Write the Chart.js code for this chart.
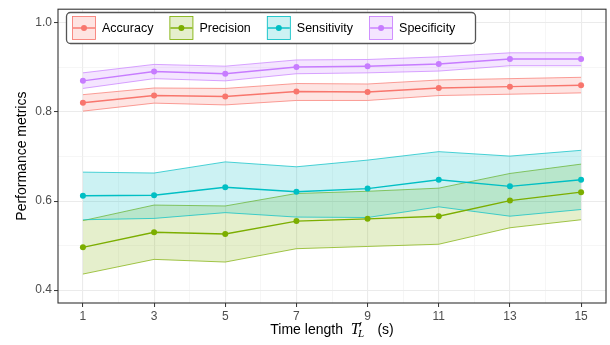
<!DOCTYPE html>
<html>
<head>
<meta charset="utf-8">
<script src="https://cdn.jsdelivr.net/npm/chart.js@4"></script>
<style>
  html, body { margin: 0; padding: 0; background: #fff; }
  canvas { display: block; }
</style>
</head>
<body>
<canvas id="myChart" width="610" height="345"></canvas>
<script>
// values
const times = [1, 3, 5, 7, 9, 11, 13, 15];

const accuracy   = [0.821, 0.837, 0.835, 0.846, 0.845, 0.854, 0.857, 0.860];
const accuracyLo = [0.802, 0.820, 0.816, 0.826, 0.826, 0.837, 0.840, 0.843];
const accuracyHi = [0.839, 0.854, 0.853, 0.864, 0.863, 0.872, 0.875, 0.878];

const precision   = [0.496, 0.530, 0.526, 0.555, 0.560, 0.566, 0.601, 0.620];
const precisionLo = [0.436, 0.469, 0.463, 0.493, 0.498, 0.503, 0.540, 0.558];
const precisionHi = [0.556, 0.591, 0.589, 0.617, 0.622, 0.629, 0.662, 0.683];

const sensitivity   = [0.612, 0.613, 0.631, 0.621, 0.628, 0.648, 0.633, 0.648];
const sensitivityLo = [0.558, 0.561, 0.574, 0.564, 0.563, 0.587, 0.566, 0.581];
const sensitivityHi = [0.665, 0.663, 0.688, 0.677, 0.692, 0.711, 0.701, 0.714];

const specificity   = [0.870, 0.891, 0.886, 0.901, 0.903, 0.908, 0.919, 0.919];
const specificityLo = [0.853, 0.875, 0.870, 0.886, 0.888, 0.892, 0.904, 0.904];
const specificityHi = [0.888, 0.907, 0.903, 0.917, 0.918, 0.924, 0.933, 0.933];

const xTicks = [1, 2, 3, 4, 5, 6, 7, 8, 9, 10, 11, 12, 13, 14, 15];
const yTicks = [0.4, 0.5, 0.6, 0.7, 0.8, 0.9, 1.0];

const series = [
    { label: 'Accuracy',    color: '#F8766D', fill: 'rgba(248,118,109,0.2)', mid: accuracy,    lo: accuracyLo,    hi: accuracyHi },
    { label: 'Precision',   color: '#7CAE00', fill: 'rgba(124,174,0,0.2)',   mid: precision,   lo: precisionLo,   hi: precisionHi },
    { label: 'Sensitivity', color: '#00BFC4', fill: 'rgba(0,191,196,0.2)',   mid: sensitivity, lo: sensitivityLo, hi: sensitivityHi },
    { label: 'Specificity', color: '#C77CFF', fill: 'rgba(199,124,255,0.2)', mid: specificity, lo: specificityLo, hi: specificityHi }
];

const FONT = '"Liberation Sans", Arial, Helvetica, sans-serif';
const SERIF = '"Liberation Serif", "DejaVu Serif", serif';

function pts(ys) {
    return times.map((t, i) => ({ x: t, y: ys[i] }));
}

const datasets = [];
series.forEach((s, i) => {
    // ribbon: upper edge filled down to lower edge
    datasets.push({
        label: s.label + ' hi',
        data: pts(s.hi),
        borderColor: s.color,
        borderWidth: 0.7,
        backgroundColor: s.fill,
        fill: '+1',
        pointRadius: 0,
        order: 100 - i * 2
    });
    datasets.push({
        label: s.label + ' lo',
        data: pts(s.lo),
        borderColor: s.color,
        borderWidth: 0.7,
        fill: false,
        pointRadius: 0,
        order: 99 - i * 2
    });
    datasets.push({
        label: s.label,
        data: pts(s.mid),
        borderColor: s.color,
        borderWidth: 1.4,
        fill: false,
        pointRadius: 3,
        pointBorderWidth: 0,
        pointBackgroundColor: s.color,
        order: 10 - i
    });
});

const isMajorX = v => Math.round(v) % 2 === 1;
const isMajorY = v => Math.round(v * 10) % 2 === 0;

// panel border, axis titles and the boxed legend
const decorations = {
    id: 'decorations',
    afterDraw(chart) {
        const ctx = chart.ctx;
        const a = chart.chartArea;
        ctx.save();

        // panel border
        ctx.strokeStyle = '#333333';
        ctx.lineWidth = 1.1;
        ctx.strokeRect(a.left, a.top, a.right - a.left, a.bottom - a.top);

        // y title
        ctx.fillStyle = '#000';
        ctx.font = '14px ' + FONT;
        ctx.textAlign = 'center';
        ctx.textBaseline = 'middle';
        ctx.save();
        ctx.translate(22, (a.top + a.bottom) / 2);
        ctx.rotate(-Math.PI / 2);
        ctx.fillText('Performance metrics', 0, 0);
        ctx.restore();

        // x title: Time length T'_L (s)
        const base = 334;
        const part1 = 'Time length  ';
        const part3 = '   (s)';
        ctx.textBaseline = 'alphabetic';
        ctx.textAlign = 'left';
        ctx.font = '14px ' + FONT;
        const w1 = ctx.measureText(part1).width;
        const w3 = ctx.measureText(part3).width;
        ctx.font = 'italic 16px ' + SERIF;
        const wT = ctx.measureText('T').width;
        ctx.font = 'italic 11px ' + SERIF;
        const wL = ctx.measureText('L').width;
        const total = w1 + wT + wL + w3;
        let x = (a.left + a.right) / 2 - total / 2;
        ctx.font = '14px ' + FONT;
        ctx.fillText(part1, x, base);
        x += w1;
        ctx.font = 'italic 16px ' + SERIF;
        ctx.fillText('T', x, base);
        x += wT;
        // prime
        ctx.strokeStyle = '#000';
        ctx.lineWidth = 1;
        ctx.beginPath();
        ctx.moveTo(x + 1.5, base - 12);
        ctx.lineTo(x, base - 7.5);
        ctx.stroke();
        ctx.font = 'italic 11px ' + SERIF;
        ctx.fillText('L', x - 1.5, base + 3);
        x += wL;
        ctx.font = '14px ' + FONT;
        ctx.fillText(part3, x, base);

        // legend
        const lx = 66.5, ly = 12.5, lw = 409, lh = 31;
        ctx.beginPath();
        ctx.roundRect(lx, ly, lw, lh, 4);
        ctx.fillStyle = '#fff';
        ctx.fill();
        ctx.strokeStyle = '#555';
        ctx.lineWidth = 1.3;
        ctx.stroke();

        ctx.font = '12.5px ' + FONT;
        ctx.textBaseline = 'middle';
        let kx = 72;
        const ky = 16, ks = 24;
        series.forEach(s => {
            ctx.fillStyle = s.fill;
            ctx.fillRect(kx, ky, ks, ks);
            ctx.strokeStyle = s.color;
            ctx.lineWidth = 0.8;
            ctx.strokeRect(kx + 0.5, ky + 0.5, ks - 1, ks - 1);
            ctx.beginPath();
            ctx.moveTo(kx + 1, ky + ks / 2);
            ctx.lineTo(kx + ks - 1, ky + ks / 2);
            ctx.lineWidth = 1.4;
            ctx.stroke();
            ctx.beginPath();
            ctx.arc(kx + ks / 2, ky + ks / 2, 3, 0, Math.PI * 2);
            ctx.fillStyle = s.color;
            ctx.fill();
            ctx.fillStyle = '#000';
            ctx.fillText(s.label, kx + ks + 6, ky + ks / 2 + 0.5);
            kx += ks + 6 + ctx.measureText(s.label).width + 16;
        });

        ctx.restore();
    }
};

const ctx = document.getElementById('myChart').getContext('2d');
const chart = new Chart(ctx, {
    type: 'line',
    data: { datasets: datasets },
    options: {
        responsive: false,
        animation: false,
        devicePixelRatio: 1,
        layout: { padding: { left: 0, right: 4, top: 8, bottom: 0 } },
        plugins: {
            legend: { display: false },
            tooltip: { enabled: false }
        },
        elements: { line: { tension: 0 } },
        scales: {
            x: {
                type: 'linear',
                min: 0.3,
                max: 15.7,
                afterBuildTicks: scale => { scale.ticks = xTicks.map(v => ({ value: v })); },
                afterFit: scale => { scale.height = 42; },
                border: { display: false },
                grid: {
                    color: c => isMajorX(c.tick.value) ? '#EBEBEB' : '#F0F0F0',
                    lineWidth: c => isMajorX(c.tick.value) ? 1.1 : 0.6,
                    tickColor: c => isMajorX(c.tick.value) ? '#333333' : 'rgba(0,0,0,0)',
                    tickLength: 4,
                    tickWidth: 1
                },
                ticks: {
                    autoSkip: false,
                    maxRotation: 0,
                    padding: 2,
                    color: '#4D4D4D',
                    font: { family: FONT, size: 12 },
                    callback: v => isMajorX(v) ? String(v) : ''
                }
            },
            y: {
                min: 0.371,
                max: 1.031,
                afterBuildTicks: scale => { scale.ticks = yTicks.map(v => ({ value: v })); },
                afterFit: scale => { scale.width = 58; },
                border: { display: false },
                grid: {
                    color: c => isMajorY(c.tick.value) ? '#EBEBEB' : '#F0F0F0',
                    lineWidth: c => isMajorY(c.tick.value) ? 1.1 : 0.6,
                    tickColor: c => isMajorY(c.tick.value) ? '#333333' : 'rgba(0,0,0,0)',
                    tickLength: 4,
                    tickWidth: 1
                },
                ticks: {
                    autoSkip: false,
                    padding: 2,
                    color: '#4D4D4D',
                    font: { family: FONT, size: 12 },
                    callback: v => isMajorY(v) ? v.toFixed(1) : ''
                }
            }
        }
    },
    plugins: [decorations]
});
</script>
</body>
</html>
